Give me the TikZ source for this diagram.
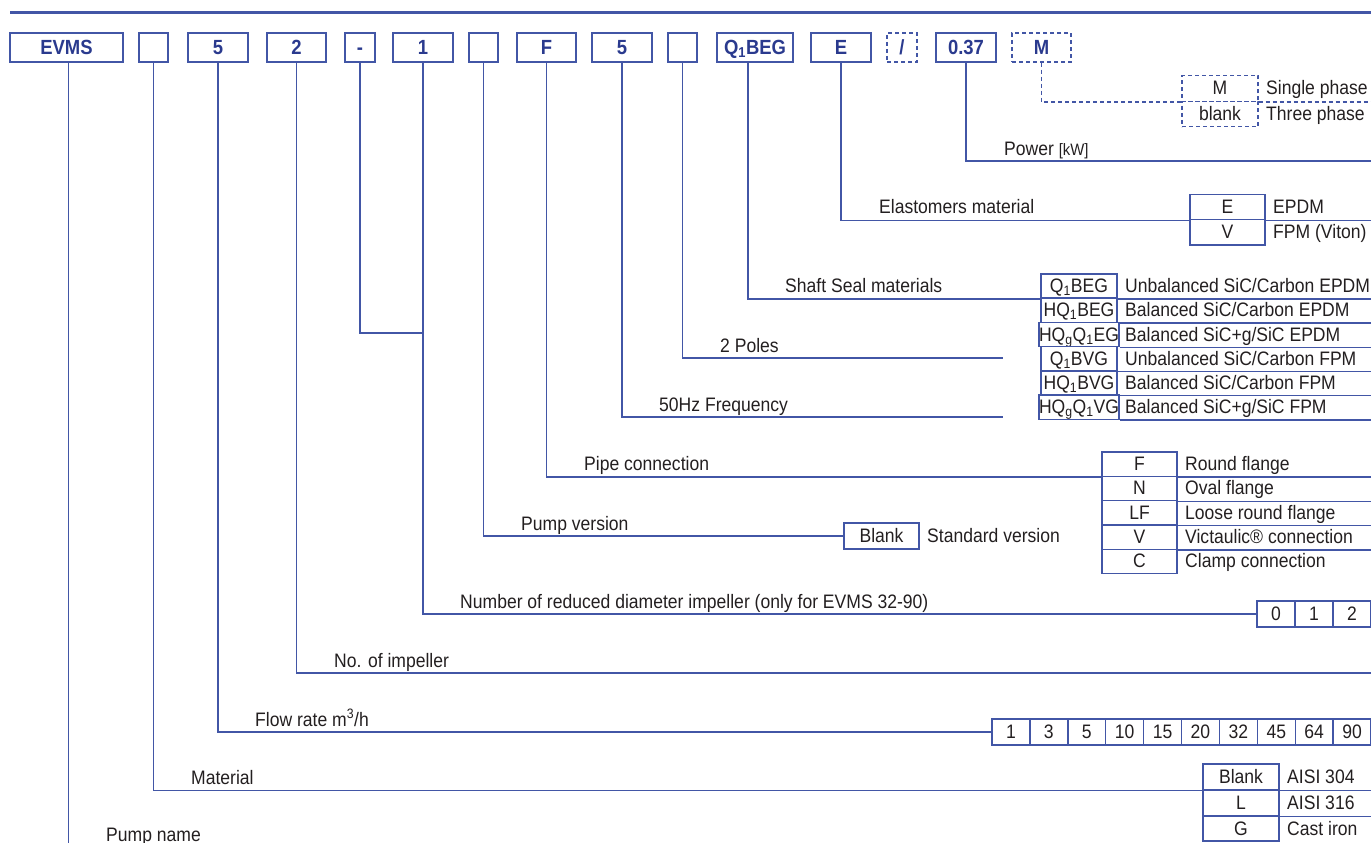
\documentclass[tikz,border=0pt]{standalone}
\usepackage{fontspec}
\setmainfont[FakeStretch=0.9]{Liberation Sans}
\usetikzlibrary{positioning}

\definecolor{leadblue}{RGB}{66,86,166}
\definecolor{codeblue}{RGB}{42,58,142}
\definecolor{txtgray}{RGB}{35,31,32}

\newcommand{\descfont}{\fontsize{19.5}{22}\selectfont}
\newcommand{\codefont}{\fontsize{20.5}{22}\selectfont\bfseries}

\tikzset{
  lead/.style={draw=leadblue, line width=1.4pt},
  optlead/.style={lead, dash pattern=on 4pt off 3pt},
  keybox/.style={draw=leadblue, line width=1.4pt, inner sep=0pt, minimum height=29pt,
    text height=16pt, text depth=2pt, text=codeblue, font=\codefont},
  optbox/.style={keybox, dash pattern=on 4pt off 3pt},
  cell/.style={draw=leadblue, line width=1.4pt, inner sep=0pt, minimum width=76pt,
    minimum height=24.3pt, text height=15pt, text depth=2pt, text=txtgray, font=\descfont},
  optcell/.style={cell, dash pattern=on 4pt off 3pt},
  desc/.style={anchor=west, inner sep=0pt, text height=15pt, text depth=2pt,
    text=txtgray, font=\descfont},
  lbl/.style={anchor=base west, inner sep=0pt, text=txtgray, font=\descfont},
}

\begin{document}
\begin{tikzpicture}[x=1pt, y=-1pt]
    \useasboundingbox (0,0) rectangle (1371,843);
    \coordinate (re) at (1371,0);

    % type key row
    \draw[draw=leadblue, line width=2.6pt] (10,12.5) -- (1371,12.5);
    \node[keybox, minimum width=113pt] (evms) at (66.5,47.5) {EVMS};
    \node[keybox, minimum width=29pt] (mat) at (153.5,47.5) {};
    \node[keybox, minimum width=60pt] (flow) at (218,47.5) {5};
    \node[keybox, minimum width=59pt] (imp) at (296.5,47.5) {2};
    \node[keybox, minimum width=30pt] (dash) at (360,47.5) {-};
    \node[keybox, minimum width=60pt] (red) at (423,47.5) {1};
    \node[keybox, minimum width=29pt] (ver) at (483.5,47.5) {};
    \node[keybox, minimum width=59pt] (pipe) at (546.5,47.5) {F};
    \node[keybox, minimum width=60pt] (freq) at (622,47.5) {5};
    \node[keybox, minimum width=29pt] (pole) at (682.5,47.5) {};
    \node[keybox, minimum width=76pt] (seal) at (755,47.5) {Q\textsubscript{1}BEG};
    \node[keybox, minimum width=60pt] (elas) at (841,47.5) {E};
    \node[optbox, minimum width=30pt] (slash) at (902,47.5) {/};
    \node[keybox, minimum width=60pt] (pow) at (966,47.5) {0.37};
    \node[optbox, minimum width=59pt] (ph) at (1041.5,47.5) {M};

    % phase
    \node[optcell, minimum height=25.5pt] (phM) at (1220,88.5) {M};
    \node[optcell, minimum height=25.5pt] (phB) at (1220,114) {blank};
    \node[desc] at (1266,88.5) {Single phase};
    \node[desc] at (1266,114) {Three phase};
    \draw[optlead] (ph.south) |- (phM.south west);
    \draw[optlead] (phM.south east) -- (phM.south east -| re);

    % power
    \coordinate (powEnd) at (1371,161);
    \draw[lead] (pow.south) |- (powEnd);
    \node[lbl] at (1004,155) {Power {\fontsize{16.5}{16}\selectfont[kW]}};

    % elastomers
    \node[cell, minimum width=75pt, minimum height=25pt] (elE) at (1227.5,207) {E};
    \node[cell, minimum width=75pt, minimum height=25.5pt] (elV) at (1227.5,232.25) {V};
    \node[desc] at (1273,207) {EPDM};
    \node[desc] at (1273,232.25) {FPM (Viton)};
    \draw[lead] (elas.south) |- (elE.south west);
    \draw[lead] (elE.south east) -- (elE.south east -| re);
    \node[lbl] at (879,213.5) {Elastomers material};

    % shaft seal
    \node[cell] (s1) at (1079,286.1) {Q\textsubscript{1}BEG};
    \node[cell] (s2) at (1079,310.3) {HQ\textsubscript{1}BEG};
    \node[cell] (s3) at (1079,334.5) {HQ\textsubscript{g}Q\textsubscript{1}EG};
    \node[cell] (s4) at (1079,358.7) {Q\textsubscript{1}BVG};
    \node[cell] (s5) at (1079,382.9) {HQ\textsubscript{1}BVG};
    \node[cell] (s6) at (1079,407.1) {HQ\textsubscript{g}Q\textsubscript{1}VG};
    \node[desc] at (1125,286.1) {Unbalanced SiC/Carbon EPDM};
    \node[desc] at (1125,310.3) {Balanced SiC/Carbon EPDM};
    \node[desc] at (1125,334.5) {Balanced SiC+g/SiC EPDM};
    \node[desc] at (1125,358.7) {Unbalanced SiC/Carbon FPM};
    \node[desc] at (1125,382.9) {Balanced SiC/Carbon FPM};
    \node[desc] at (1125,407.1) {Balanced SiC+g/SiC FPM};
    \draw[lead] ([xshift=-7pt]seal.south) |- (s1.south west);
    \draw[lead] (s1.south east) -- (s1.south east -| re);
    \draw[lead] (s2.south east) -- (s2.south east -| re);
    \draw[lead] (s3.south east) -- (s3.south east -| re);
    \draw[lead] (s4.south east) -- (s4.south east -| re);
    \draw[lead] (s5.south east) -- (s5.south east -| re);
    \draw[lead] (s6.south east) -- (s6.south east -| re);
    \node[lbl] at (785,292) {Shaft Seal materials};

    % poles and frequency
    \coordinate (poleEnd) at (1003,358);
    \coordinate (freqEnd) at (1003,417);
    \draw[lead] (pole.south) |- (poleEnd);
    \draw[lead] (freq.south) |- (freqEnd);
    \node[lbl] at (720,352) {2 Poles};
    \node[lbl] at (659,411) {50Hz Frequency};

    % pipe connection
    \node[cell, minimum width=75pt] (p1) at (1139.5,464.15) {F};
    \node[cell, minimum width=75pt] (p2) at (1139.5,488.45) {N};
    \node[cell, minimum width=75pt] (p3) at (1139.5,512.75) {LF};
    \node[cell, minimum width=75pt] (p4) at (1139.5,537.05) {V};
    \node[cell, minimum width=75pt] (p5) at (1139.5,561.35) {C};
    \node[desc] at (1185,464.15) {Round flange};
    \node[desc] at (1185,488.45) {Oval flange};
    \node[desc] at (1185,512.75) {Loose round flange};
    \node[desc] at (1185,537.05) {Victaulic® connection};
    \node[desc] at (1185,561.35) {Clamp connection};
    \draw[lead] (pipe.south) |- (p1.south west);
    \draw[lead] (p1.south east) -- (p1.south east -| re);
    \draw[lead] (p2.south east) -- (p2.south east -| re);
    \draw[lead] (p3.south east) -- (p3.south east -| re);
    \draw[lead] (p4.south east) -- (p4.south east -| re);
    \node[lbl] at (584,470) {Pipe connection};

    % pump version
    \node[cell, minimum width=75pt, minimum height=26pt] (std) at (881.5,536) {Blank};
    \node[desc] at (927,536) {Standard version};
    \draw[lead] (ver.south) |- (std.west);
    \node[lbl] at (521,530) {Pump version};

    % reduced impellers
    \coordinate (joint) at (423,333);
    \draw[lead] (dash.south) |- (joint);
    \node[cell, minimum width=38pt, minimum height=26pt] (n0) at (1276,614) {0};
    \node[cell, minimum width=38pt, minimum height=26pt] (n1) at (1314,614) {1};
    \node[cell, minimum width=38pt, minimum height=26pt] (n2) at (1352,614) {2};
    \draw[lead] (red.south) |- (n0.west);
    \node[lbl] at (460,608) {Number of reduced diameter impeller (only for EVMS 32-90)};

    % impellers
    \coordinate (impEnd) at (1371,673);
    \draw[lead] (imp.south) |- (impEnd);
    \node[lbl] at (334,667) {No. of impeller};

    % flow rate
    \node[cell, minimum width=37.9pt, minimum height=26pt] (f1) at (1010.95,732) {1};
    \node[cell, minimum width=37.9pt, minimum height=26pt] (f2) at (1048.85,732) {3};
    \node[cell, minimum width=37.9pt, minimum height=26pt] (f3) at (1086.75,732) {5};
    \node[cell, minimum width=37.9pt, minimum height=26pt] (f4) at (1124.65,732) {10};
    \node[cell, minimum width=37.9pt, minimum height=26pt] (f5) at (1162.55,732) {15};
    \node[cell, minimum width=37.9pt, minimum height=26pt] (f6) at (1200.45,732) {20};
    \node[cell, minimum width=37.9pt, minimum height=26pt] (f7) at (1238.35,732) {32};
    \node[cell, minimum width=37.9pt, minimum height=26pt] (f8) at (1276.25,732) {45};
    \node[cell, minimum width=37.9pt, minimum height=26pt] (f9) at (1314.15,732) {64};
    \node[cell, minimum width=37.9pt, minimum height=26pt] (f10) at (1352.05,732) {90};
    \draw[lead] (flow.south) |- (f1.west);
    \node[lbl] at (255,726) {Flow rate m\textsuperscript{3}/h};

    % material
    \node[cell, minimum height=26pt] (m1) at (1241,777) {Blank};
    \node[cell, minimum height=26pt] (m2) at (1241,803) {L};
    \node[cell, minimum height=25pt] (m3) at (1241,828.5) {G};
    \node[desc] at (1287,777) {AISI 304};
    \node[desc] at (1287,803) {AISI 316};
    \node[desc] at (1287,828.5) {Cast iron};
    \draw[lead] (mat.south) |- (m1.south west);
    \draw[lead] (m1.south east) -- (m1.south east -| re);
    \draw[lead] (m2.south east) -- (m2.south east -| re);
    \node[lbl] at (191,784) {Material};

    % pump name
    \coordinate (evmsEnd) at (68.5,843);
    \draw[lead] ([xshift=2pt]evms.south) -- (evmsEnd);
    \node[lbl] at (106,841) {Pump name};

\end{tikzpicture}
\end{document}
